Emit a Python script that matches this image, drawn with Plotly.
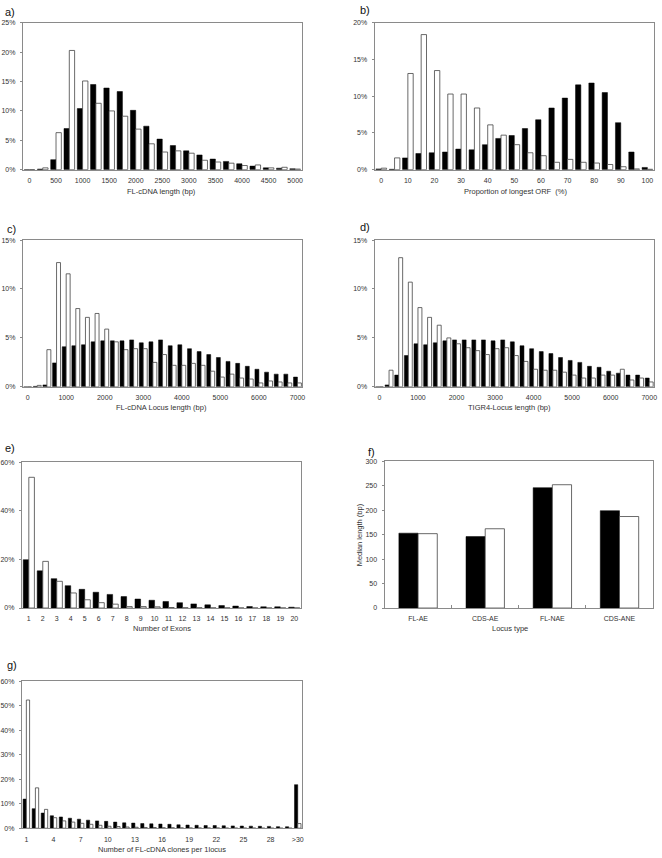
import plotly.graph_objects as go

# ---------------- data ----------------
# a) FL-cDNA length (bp), bins of 250 bp
a_bins = list(range(0, 5001, 250))
a_black = [0.0, 0.1, 1.7, 7.0, 10.4, 14.5, 13.9, 13.3, 10.1, 7.4, 5.2, 4.1, 3.2, 2.5, 1.8, 1.4, 1.0, 0.6, 0.3, 0.25, 0.15]
a_white = [0.0, 0.3, 6.3, 20.3, 15.1, 11.3, 10.0, 9.1, 6.9, 4.4, 3.0, 3.2, 2.8, 1.6, 1.3, 1.1, 0.7, 0.8, 0.3, 0.4, 0.1]
a_ticks = list(range(0, 5001, 500))

# b) Proportion of longest ORF (%), bins of 5 %
b_bins = list(range(0, 101, 5))
b_black = [0.1, 0.05, 1.6, 2.2, 2.3, 2.4, 2.8, 2.7, 3.4, 4.25, 4.65, 5.6, 6.8, 8.4, 9.75, 11.55, 11.8, 10.5, 6.4, 2.4, 0.3]
b_white = [0.2, 1.6, 13.1, 18.4, 13.5, 10.3, 10.3, 8.4, 6.1, 4.7, 3.4, 2.3, 1.9, 1.0, 1.4, 1.0, 0.9, 0.7, 0.4, 0.1, 0.05]
b_ticks = list(range(0, 101, 10))

# c) FL-cDNA Locus length (bp), bins of 250 bp
c_bins = list(range(0, 7001, 250))
c_black = [0.0, 0.05, 0.2, 2.45, 4.1, 4.2, 4.3, 4.6, 4.7, 4.7, 4.7, 4.8, 4.5, 4.6, 4.8, 4.2, 4.3, 3.9, 3.6, 3.3, 3.0, 2.6, 2.4, 2.1, 1.8, 1.5, 1.3, 1.3, 1.0]
c_white = [0.0, 0.15, 3.8, 12.7, 11.55, 8.0, 7.1, 7.5, 5.9, 4.6, 3.8, 3.9, 3.9, 2.5, 3.3, 2.2, 2.2, 2.4, 2.2, 1.6, 1.0, 1.3, 0.9, 0.8, 0.4, 0.6, 0.5, 0.4, 0.4]
c_ticks = list(range(0, 7001, 1000))

# d) TIGR4-Locus length (bp), bins of 250 bp
d_bins = list(range(0, 7001, 250))
d_black = [0.0, 0.2, 1.2, 3.2, 4.4, 4.3, 4.5, 4.7, 4.8, 4.8, 4.8, 4.8, 4.7, 4.8, 4.6, 4.2, 3.9, 3.6, 3.4, 3.0, 2.7, 2.5, 2.1, 2.0, 1.6, 1.4, 1.2, 1.2, 0.9]
d_white = [0.0, 1.7, 13.2, 10.7, 8.1, 7.1, 6.3, 5.0, 4.4, 4.0, 3.7, 3.3, 3.9, 4.0, 3.2, 2.6, 1.8, 1.7, 1.7, 1.5, 1.2, 0.9, 0.9, 1.2, 1.2, 1.8, 0.7, 0.9, 0.5]
d_ticks = list(range(0, 7001, 1000))

# e) Number of exons
e_bins = list(range(1, 21))
e_black = [19.9, 15.3, 12.1, 9.2, 7.7, 6.5, 5.6, 4.7, 3.7, 3.2, 2.7, 2.2, 1.7, 1.3, 1.0, 0.8, 0.6, 0.5, 0.5, 0.35]
e_white = [53.8, 19.2, 11.0, 6.2, 3.4, 2.2, 1.6, 0.6, 0.6, 0.5, 0.2, 0.1, 0.1, 0.05, 0.05, 0.0, 0.0, 0.0, 0.0, 0.0]
e_ticks = list(range(1, 21))

# f) Median length (bp) by locus type
f_types = ["FL-AE", "CDS-AE", "FL-NAE", "CDS-ANE"]
f_black = [153, 146, 246, 199]
f_white = [152, 162, 252, 187]

# g) Number of FL-cDNA clones per 1 locus
g_bins = [str(i) for i in range(1, 31)] + [">30"]
g_black = [11.9, 8.0, 6.2, 5.1, 4.6, 4.1, 3.7, 3.3, 3.0, 2.8, 2.5, 2.2, 2.1, 1.9, 1.8, 1.7, 1.6, 1.4, 1.3, 1.2,
           1.1, 1.1, 1.0, 0.95, 0.9, 0.85, 0.8, 0.75, 0.65, 0.6, 17.8]
g_white = [52.4, 16.5, 7.7, 4.3, 3.0, 2.5, 2.0, 1.6, 1.2, 0.8, 0.7, 0.5, 0.4, 0.3, 0.3, 0.2, 0.2, 0.15, 0.1, 0.1,
           0.1, 0.1, 0.05, 0.05, 0.05, 0.05, 0.0, 0.0, 0.0, 0.0, 1.9]
g_ticks = ["1", "4", "7", "10", "13", "16", "19", "22", "25", "28", ">30"]

# ---------------- layout helpers ----------------
W, H = 662, 858
FONT = "Liberation Sans, Arial, sans-serif"
TICKFONT = dict(family=FONT, size=7, color="#333333")


def dx(a, b):
    return [a / W, b / W]


def dy(top, bottom):
    return [1 - bottom / H, 1 - top / H]


panels = [
    # name, cats, black, white, ticks, yrange, dtick, suffix, barw, xdom(px), ydom(px)
    ("a", [str(v) for v in a_bins], a_black, a_white, [str(v) for v in a_ticks], 25, 5, "%", 0.40, (20, 301.5), (19, 167)),
    ("b", [str(v) for v in b_bins], b_black, b_white, [str(v) for v in b_ticks], 20, 5, "%", 0.40, (375, 657), (19, 167)),
    ("c", [str(v) for v in c_bins], c_black, c_white, [str(v) for v in c_ticks], 15, 5, "%", 0.41, (20, 302), (238, 386)),
    ("d", [str(v) for v in d_bins], d_black, d_white, [str(v) for v in d_ticks], 15, 5, "%", 0.41, (375, 657), (238, 386)),
    ("e", [str(v) for v in e_bins], e_black, e_white, [str(v) for v in e_ticks], 60, 20, "%", 0.40, (19, 301), (462, 609)),
    ("f", f_types, f_black, f_white, f_types, 300, 50, "", 0.286, (385, 656), (461, 609)),
    ("g", g_bins, g_black, g_white, g_ticks, 60, 10, "%", 0.36, (19, 302), (683, 831)),
]

fig = go.Figure()
layout = dict(
    width=W, height=H, margin=dict(l=0, r=0, t=0, b=0),
    paper_bgcolor="white", plot_bgcolor="white",
    showlegend=False, barmode="group",
)

for i, (name, cats, blk, wht, ticks, ymax, dtick, suffix, bw, xd, yd) in enumerate(panels):
    n = i + 1
    xa = "x" if n == 1 else f"x{n}"
    ya = "y" if n == 1 else f"y{n}"
    fig.add_trace(go.Bar(x=cats, y=blk, xaxis=xa, yaxis=ya, width=bw, offset=-bw,
                         marker=dict(color="black", line=dict(color="black", width=0.5))))
    fig.add_trace(go.Bar(x=cats, y=wht, xaxis=xa, yaxis=ya, width=bw, offset=0,
                         marker=dict(color="white", line=dict(color="#444444", width=0.8))))
    xkey = "xaxis" if n == 1 else f"xaxis{n}"
    ykey = "yaxis" if n == 1 else f"yaxis{n}"
    xax = dict(domain=dx(*xd), anchor=ya, type="category", categoryorder="array", categoryarray=cats,
               range=[-0.5, len(cats) - 0.5], tickvals=ticks, ticktext=ticks,
               showline=True, mirror=True, linecolor="#8a8a8a", linewidth=1,
               showgrid=False, zeroline=False, tickfont=TICKFONT,
               ticks="", ticklabelstandoff=4)
    if name == "f":
        xax.update(ticks="inside", tickson="boundaries", ticklen=3, tickcolor="#8a8a8a")
    layout[xkey] = xax
    layout[ykey] = dict(domain=dy(*yd), anchor=xa, range=[0, ymax], dtick=dtick, ticksuffix=suffix,
                        showline=True, mirror=True, linecolor="#8a8a8a", linewidth=1,
                        showgrid=False, zeroline=False, tickfont=TICKFONT,
                        ticks="outside", ticklen=2, tickcolor="#8a8a8a", ticklabelstandoff=3)

fig.update_layout(**layout)

# axis titles
titles = [
    ("FL-cDNA length (bp)", 160, 189),
    ("Proportion of longest ORF  (%)", 517, 189),
    ("FL-cDNA Locus length (bp)", 160, 407),
    ("TIGR4-Locus length (bp)", 511, 407),
    ("Number of Exons", 160, 630),
    ("Locus type", 512, 630),
    ("Number of FL-cDNA clones per 1locus", 160, 852),
]
for txt, x, y in titles:
    fig.add_annotation(text=txt, x=x / W, y=1 - y / H, xref="paper", yref="paper",
                       showarrow=False, xanchor="center", yanchor="middle",
                       font=dict(family=FONT, size=7.5, color="#333333"))
fig.add_annotation(text="Median length (bp)", x=360 / W, y=1 - 535 / H, xref="paper", yref="paper",
                   showarrow=False, textangle=-90, xanchor="center", yanchor="middle",
                   font=dict(family=FONT, size=7.5, color="#333333"))

# panel letters
letters = [("a)", 0, 8), ("b)", 358, 6), ("c)", 2, 227), ("d)", 358, 225),
           ("e)", 0, 448), ("f)", 366, 452), ("g)", 2, 666)]
for txt, x, y in letters:
    fig.add_annotation(text=txt, x=x / W, y=1 - y / H, xref="paper", yref="paper",
                       showarrow=False, xanchor="left", yanchor="middle",
                       font=dict(family=FONT, size=11, color="#111111"))

fig.write_html("out.html", config={"displayModeBar": False},
               post_script="document.body.style.margin='0';document.body.style.overflow='hidden';")
